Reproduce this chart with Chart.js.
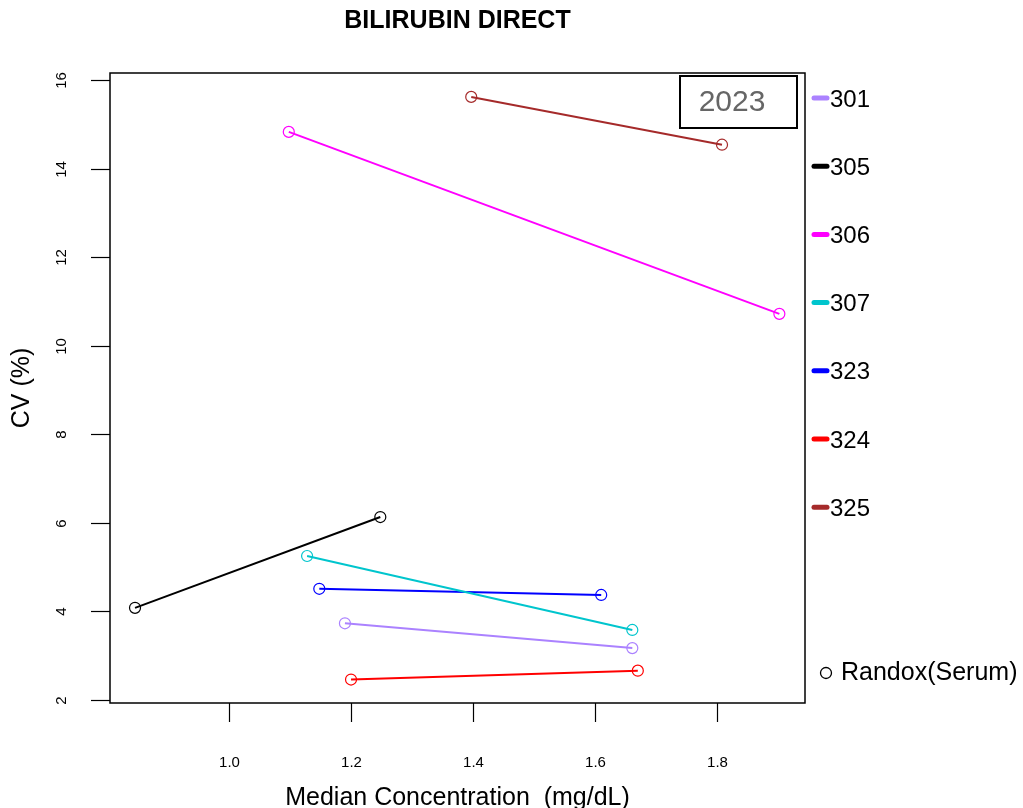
<!DOCTYPE html>
<html>
<head>
<meta charset="utf-8">
<script src="https://cdn.jsdelivr.net/npm/chart.js@4/dist/chart.umd.min.js"></script>
<style>
  html, body { margin: 0; padding: 0; background: #fff; }
  #wrap { width: 1023px; height: 808px; }
</style>
</head>
<body>
<div id="wrap"><canvas id="chart" width="1023" height="808"></canvas></div>
<script>
// labs and their two (median, CV) points
const labs = ['301', '305', '306', '307', '323', '324', '325'];
const labColors = ['#AB82FF', '#000000', '#FF00FF', '#00C5CD', '#0000FF', '#FF0000', '#A52A2A'];
const medians = [
  [1.19, 1.661],
  [0.846, 1.248],
  [1.098, 1.902],
  [1.128, 1.661],
  [1.148, 1.61],
  [1.2, 1.67],
  [1.397, 1.808],
];
const cvs = [
  [3.73, 3.17],
  [4.08, 6.13],
  [14.83, 10.72],
  [5.25, 3.58],
  [4.51, 4.37],
  [2.46, 2.66],
  [15.62, 14.54],
];
const xTicks = [1.0, 1.2, 1.4, 1.6, 1.8];
const yTicks = [2, 4, 6, 8, 10, 12, 14, 16];
const yearLabel = '2023';
const materialLabel = 'Randox(Serum)';

const FONT = '"Liberation Sans", Arial, sans-serif';

const datasets = labs.map((lab, i) => ({
  label: lab,
  data: medians[i].map((m, j) => ({ x: m, y: cvs[i][j] })),
  borderColor: labColors[i],
  backgroundColor: 'rgba(0,0,0,0)',
  borderWidth: 2,
  pointRadius: 5.5,
  pointBorderWidth: 1.2,
  pointBorderColor: labColors[i],
  pointBackgroundColor: 'rgba(0,0,0,0)',
  showLine: true,
  tension: 0,
}));

const decor = {
  id: 'decor',
  afterDraw(chart) {
    const ctx = chart.ctx;
    const a = chart.chartArea;
    const xs = chart.scales.x;
    const ys = chart.scales.y;
    ctx.save();
    // frame
    ctx.strokeStyle = '#000';
    ctx.lineWidth = 1.5;
    ctx.strokeRect(a.left, a.top, a.right - a.left, a.bottom - a.top);

    // x ticks
    ctx.lineWidth = 1.2;
    ctx.fillStyle = '#000';
    ctx.font = '15px ' + FONT;
    ctx.textAlign = 'center';
    ctx.textBaseline = 'middle';
    xTicks.forEach(t => {
      const px = Math.round(xs.getPixelForValue(t)) + 0.5;
      ctx.beginPath();
      ctx.moveTo(px, a.bottom);
      ctx.lineTo(px, a.bottom + 19);
      ctx.stroke();
      ctx.fillText(t.toFixed(1), px, a.bottom + 60);
    });

    // y ticks (rotated labels)
    yTicks.forEach(t => {
      const py = Math.round(ys.getPixelForValue(t)) + 0.5;
      ctx.beginPath();
      ctx.moveTo(a.left - 19, py);
      ctx.lineTo(a.left, py);
      ctx.stroke();
      ctx.save();
      ctx.translate(62, py);
      ctx.rotate(-Math.PI / 2);
      ctx.fillText(String(t), 0, 0);
      ctx.restore();
    });

    // axis titles
    ctx.font = '25px ' + FONT;
    ctx.fillText('Median Concentration  (mg/dL)', (a.left + a.right) / 2, 798);
    ctx.save();
    ctx.translate(22, (a.top + a.bottom) / 2);
    ctx.rotate(-Math.PI / 2);
    ctx.fillText('CV (%)', 0, 0);
    ctx.restore();

    // title
    ctx.font = 'bold 25px ' + FONT;
    ctx.fillText('BILIRUBIN DIRECT', (a.left + a.right) / 2, 21);

    // year box
    ctx.fillStyle = '#fff';
    ctx.fillRect(680, 76, 117, 52);
    ctx.lineWidth = 2;
    ctx.strokeStyle = '#000';
    ctx.strokeRect(680, 76, 117, 52);
    ctx.fillStyle = '#666';
    ctx.font = '30px ' + FONT;
    ctx.fillText(yearLabel, 732, 103);

    // right legend
    ctx.textAlign = 'left';
    ctx.font = '24px ' + FONT;
    labs.forEach((lab, i) => {
      const ly = 100 + i * 68.2;
      ctx.strokeStyle = labColors[i];
      ctx.lineWidth = 5;
      ctx.lineCap = 'round';
      ctx.beginPath();
      ctx.moveTo(814, ly - 2);
      ctx.lineTo(827, ly - 2);
      ctx.stroke();
      ctx.fillStyle = '#000';
      ctx.fillText(lab, 830, ly);
    });
    ctx.lineCap = 'butt';
    ctx.lineWidth = 1.3;
    ctx.strokeStyle = '#000';
    ctx.beginPath();
    ctx.arc(826, 673, 5.5, 0, Math.PI * 2);
    ctx.stroke();
    ctx.font = '25px ' + FONT;
    ctx.fillText(materialLabel, 841, 673);
    ctx.restore();
  }
};

new Chart(document.getElementById('chart'), {
  type: 'line',
  data: { datasets },
  options: {
    responsive: false,
    animation: false,
    layout: { padding: { left: 110, right: 218, top: 73, bottom: 105 } },
    scales: {
      x: { type: 'linear', min: 0.805, max: 1.944, display: false },
      y: { type: 'linear', min: 1.93, max: 16.16, display: false },
    },
    plugins: {
      legend: { display: false },
      tooltip: { enabled: false },
    },
  },
  plugins: [decor],
});
</script>
</body>
</html>
